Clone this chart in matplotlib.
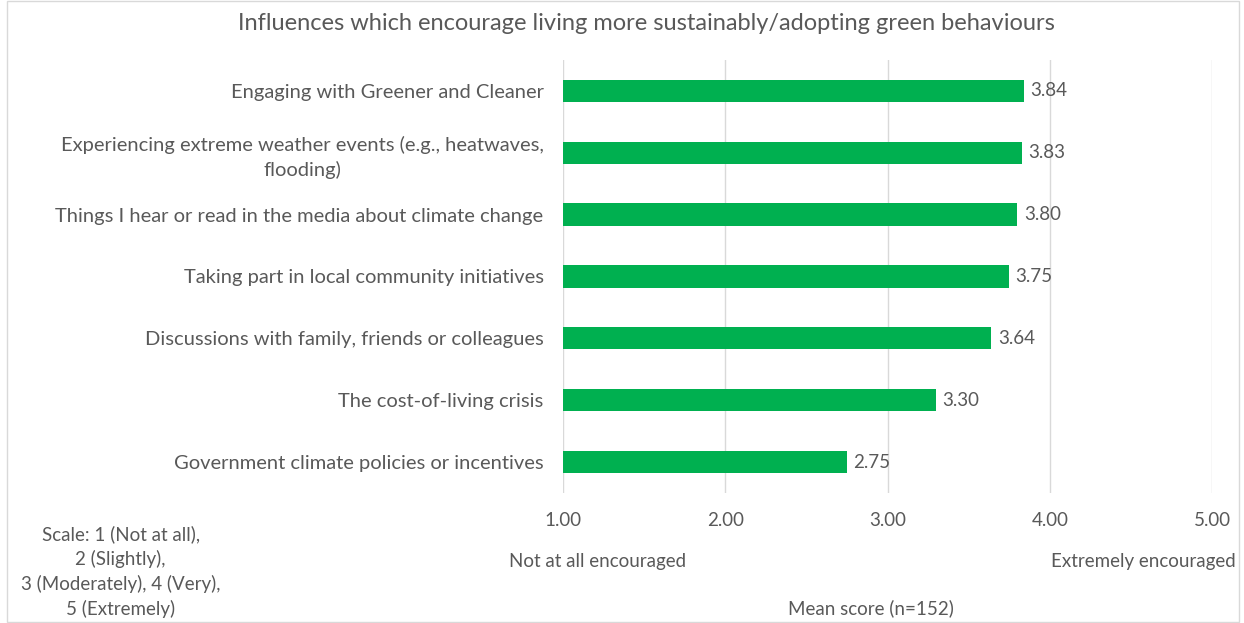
import matplotlib.pyplot as plt
from matplotlib.patches import Rectangle

plt.rcParams['font.family'] = ['Lato', 'DejaVu Sans']

categories = [
    "Engaging with Greener and Cleaner",
    "Experiencing extreme weather events (e.g., heatwaves,\nflooding)",
    "Things I hear or read in the media about climate change",
    "Taking part in local community initiatives",
    "Discussions with family, friends or colleagues",
    "The cost-of-living crisis",
    "Government climate policies or incentives",
]
scores = [3.84, 3.83, 3.80, 3.75, 3.64, 3.30, 2.75]
ticks = [1, 2, 3, 4, 5]

grey = '#595959'
green = '#00B050'
fs = 14

fig = plt.figure(figsize=(12.44, 6.23), dpi=100)
ax = fig.add_axes([0.4526, 0.2087, 0.5217, 0.695])

ypos = list(range(len(categories)))[::-1]
ax.barh(ypos, [s - 1 for s in scores], left=1, height=0.36, color=green, zorder=3)
for y, s in zip(ypos, scores):
    ax.text(s + 0.04, y, f"{s:.2f}", va='center', ha='left', fontsize=fs - 0.5, color=grey)

ax.set_xlim(1, 5)
ax.set_ylim(-0.5, len(categories) - 0.5)
ax.set_xticks(ticks)
ax.set_xticklabels([f"{t:.2f}" for t in ticks], fontsize=fs - 0.5, color=grey)
ax.set_yticks(ypos)
ax.set_yticklabels(categories, fontsize=fs + 0.5, color=grey, ha='right',
                   multialignment='center', linespacing=1.45)
ax.tick_params(length=0)
ax.tick_params(axis='x', pad=14)
ax.tick_params(axis='y', pad=14)
ax.grid(axis='x', color='#d9d9d9', linewidth=1, zorder=0)
for sp in ax.spines.values():
    sp.set_visible(False)

fig.text(0.52, 0.962, "Influences which encourage living more sustainably/adopting green behaviours",
         ha='center', va='center', fontsize=17, color=grey)
fig.text(0.097, 0.083, "Scale: 1 (Not at all),\n2 (Slightly),\n3 (Moderately), 4 (Very),\n5 (Extremely)",
         ha='center', va='center', fontsize=fs - 0.5, color=grey, linespacing=1.45)
fig.text(0.48, 0.099, "Not at all encouraged", ha='center', va='center', fontsize=fs - 0.5, color=grey)
fig.text(0.993, 0.099, "Extremely encouraged", ha='right', va='center', fontsize=fs - 0.5, color=grey)
fig.text(0.70, 0.024, "Mean score (n=152)", ha='center', va='center', fontsize=fs - 0.5, color=grey)

fig.patches.append(Rectangle((0.006, 0.002), 0.99, 0.996, transform=fig.transFigure,
                             fill=False, edgecolor='#d9d9d9', linewidth=1))

plt.savefig('out.png', dpi=100)
